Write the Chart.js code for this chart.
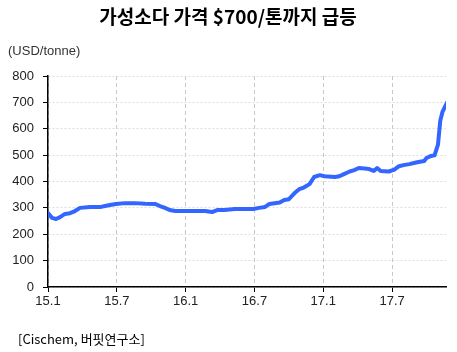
<!DOCTYPE html>
<html>
<head>
<meta charset="utf-8">
<script src="https://cdn.jsdelivr.net/npm/chart.js@4"></script>
<style>
  html, body { margin: 0; padding: 0; background: #fff; }
  #wrap { width: 457px; height: 352px; position: relative; }
</style>
</head>
<body>
<div id="wrap"><canvas id="chart" width="457" height="352"></canvas></div>
<script>
// months counted from Jan 2015
const months = [0, 0.35, 0.7, 1.05, 1.48, 1.92, 2.35, 2.79, 3.66, 4.53, 4.97, 5.41, 5.93, 6.71, 7.59, 8.46, 9.33, 9.76, 10.2, 10.6, 11.1, 11.9, 12.8, 13.7, 14.3, 14.8, 15.4, 16.3, 17.9, 18.4, 18.9, 19.3, 20.2, 20.6, 21.0, 21.5, 21.9, 22.3, 22.8, 23.2, 23.7, 24.1, 25.0, 25.4, 25.8, 26.3, 26.7, 27.1, 27.6, 28.0, 28.4, 28.7, 29.0, 29.7, 30.2, 30.6, 31.0, 31.5, 31.9, 32.3, 32.8, 33.0, 33.4, 33.7, 34.0, 34.2, 34.4, 34.8];
const prices = [280, 262, 258, 265, 277, 280, 288, 300, 303, 303, 307, 311, 315, 318, 318, 316, 315, 307, 300, 292, 288, 288, 288, 288, 284, 292, 292, 296, 296, 300, 303, 315, 320, 330, 333, 356, 371, 377, 390, 417, 424, 420, 417, 420, 428, 438, 443, 451, 449, 447, 440, 451, 440, 438, 445, 458, 462, 466, 470, 474, 478, 489, 497, 499, 540, 630, 665, 700];

const tickMonths = [0, 6, 12, 18, 24, 30];
const tickLabels = ['15.1', '15.7', '16.1', '16.7', '17.1', '17.7'];

const title = '가성소다 가격 $700/톤까지 급등';
const unitLabel = '(USD/tonne)';
const source = '[Cischem, 버핏연구소]';

const textPlugin = {
  id: 'texts',
  afterDraw(chart) {
    const ctx = chart.ctx;
    ctx.save();
    ctx.fillStyle = '#000';
    ctx.textBaseline = 'middle';
    ctx.textAlign = 'center';
    ctx.font = 'bold 19px "Noto Sans CJK KR"';
    ctx.fillText(title, 228, 17);
    ctx.textAlign = 'left';
    ctx.fillStyle = '#333';
    ctx.font = '13px "Liberation Sans"';
    ctx.fillText(unitLabel, 8, 51);
    ctx.fillStyle = '#000';
    ctx.font = '13px "Noto Sans CJK KR"';
    ctx.fillText(source, 18, 339);
    ctx.restore();
  }
};

new Chart(document.getElementById('chart'), {
  type: 'line',
  data: {
    datasets: [{
      data: months.map((m, i) => ({ x: m, y: prices[i] })),
      borderColor: '#3366ff',
      borderWidth: 4,
      pointRadius: 0,
      tension: 0,
      borderJoinStyle: 'round',
      borderCapStyle: 'round',
      fill: false
    }]
  },
  options: {
    responsive: false,
    animation: false,
    layout: { padding: { top: 76, right: 11, left: 0, bottom: 0 } },
    plugins: { legend: { display: false }, tooltip: { enabled: false } },
    scales: {
      x: {
        type: 'linear',
        min: 0,
        max: 34.7,
        afterBuildTicks: (scale) => { scale.ticks = tickMonths.map(v => ({ value: v })); },
        afterFit: (scale) => { scale.height = 65; },
        ticks: {
          autoSkip: false,
          maxRotation: 0,
          padding: 2,
          color: '#222',
          font: { family: 'Liberation Sans', size: 13 },
          callback: (v) => tickLabels[tickMonths.indexOf(v)]
        },
        grid: {
          color: '#c8c8c8',
          tickColor: '#000',
          tickLength: 5,
          tickBorderDash: []
        },
        border: { color: '#000', width: 1.5, dash: [4, 3] }
      },
      y: {
        min: 0,
        max: 800,
        afterFit: (scale) => { scale.width = 48; },
        ticks: {
          stepSize: 100,
          padding: 9,
          color: '#222',
          font: { family: 'Liberation Sans', size: 13 }
        },
        grid: {
          color: '#dcdcdc',
          tickColor: '#000',
          tickLength: 5,
          tickBorderDash: []
        },
        border: { color: '#000', width: 1.5, dash: [2, 2] }
      }
    }
  },
  plugins: [textPlugin]
});
</script>
</body>
</html>
